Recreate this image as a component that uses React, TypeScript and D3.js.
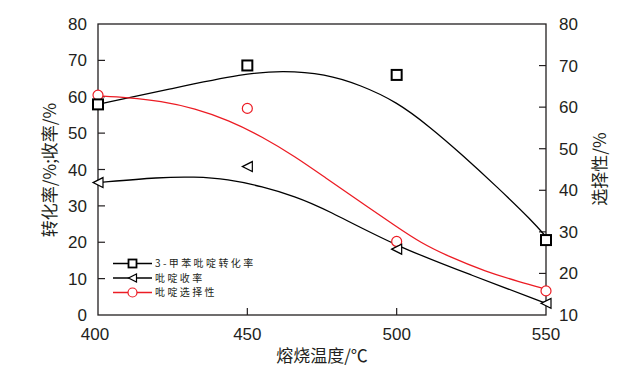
import React from "react";
import * as d3 from "d3";

const temps = [400, 450, 500, 550];
const conversion = [57.9, 68.6, 66.0, 20.6];
const yieldPct = [36.4, 40.8, 18.1, 3.2];
const selectivity = [62.9, 59.7, 27.7, 15.8];

// fitted curves
const convCurveX = [400, 425, 449, 462, 476, 488, 500, 511, 522, 533.5, 545.6, 550];
const convCurveY = [57.9, 62.3, 66.4, 67.2, 66.3, 63.2, 58.6, 51.8, 44.0, 35.3, 25.7, 21.5];
const yieldCurveX = [400, 421, 432, 443.5, 455, 466, 476, 500, 525, 550];
const yieldCurveY = [36.4, 37.9, 38.0, 37.4, 35.3, 32.6, 29.2, 18.8, 11.0, 3.2];
const selCurveX = [400, 410, 421, 432.5, 443.6, 455, 466, 476, 487.7, 500, 508, 517, 530, 541, 550];
const selCurveY = [62.7, 62.3, 61.5, 59.7, 56.9, 52.9, 48.1, 43.1, 37.3, 31.2, 27.4, 24.2, 20.4, 18.0, 16.2];

const xTicks = [400, 450, 500, 550];
const leftTicks = [0, 10, 20, 30, 40, 50, 60, 70, 80];
const rightTicks = [10, 20, 30, 40, 50, 60, 70, 80];
const legendLabels = ["3-甲苯吡啶转化率", "吡啶收率", "吡啶选择性"];

const RED = "#ec1c24";
const INK = "#231f20";
const FONT = "'Liberation Sans', Arial, 'Noto Sans CJK SC', sans-serif";
const CJK = "'Noto Sans CJK SC', 'Liberation Sans', sans-serif";

export default function App() {
  const L = 98, R = 546, T = 24, B = 315;
  const x = d3.scaleLinear().domain([400, 550]).range([L, R]);
  const yL = d3.scaleLinear().domain([0, 80]).range([B, T]);
  const yR = d3.scaleLinear().domain([10, 80]).range([B, T]);

  const mk = (xs: number[], ys: number[], ys2: (v: number) => number) =>
    d3.line<number>().x((_, i) => x(xs[i])).y((_, i) => ys2(ys[i])).curve(d3.curveBasis)(xs) || "";

  const sq = (cx: number, cy: number, s: number, key: string, sw = 2) => (
    <rect key={key} x={cx - s / 2} y={cy - s / 2} width={s} height={s} fill="white" stroke="black" strokeWidth={sw} />
  );
  const tri = (cx: number, cy: number, s: number, key: string) => (
    <path key={key} d={`M${cx - s / 2},${cy} L${cx + s / 2},${cy - s / 2} L${cx + s / 2},${cy + s / 2} Z`} fill="white" stroke="black" strokeWidth={1.2} />
  );
  const circ = (cx: number, cy: number, r: number, key: string) => (
    <circle key={key} cx={cx} cy={cy} r={r} fill="white" stroke={RED} strokeWidth={1.2} />
  );

  const legY = [263.5, 278, 292.5];

  return (
    <svg width={631} height={380} style={{ position: "absolute", left: 0, top: 0, background: "white" }}>
      {/* frame */}
      <rect x={L} y={T} width={R - L} height={B - T} fill="none" stroke={INK} strokeWidth={1.3} />
      {/* ticks */}
      {leftTicks.slice(1, -1).map((v) => (
        <line key={"lt" + v} x1={L} x2={L + 7} y1={yL(v)} y2={yL(v)} stroke={INK} strokeWidth={1.2} />
      ))}
      {rightTicks.slice(1, -1).map((v) => (
        <line key={"rt" + v} x1={R - 7} x2={R} y1={yR(v)} y2={yR(v)} stroke={INK} strokeWidth={1.2} />
      ))}
      {xTicks.slice(1, -1).map((v) => (
        <line key={"bt" + v} x1={x(v)} x2={x(v)} y1={B} y2={B - 7} stroke={INK} strokeWidth={1.2} />
      ))}
      {/* tick labels */}
      {leftTicks.map((v) => (
        <text key={"ll" + v} x={L - 11} y={yL(v) + 6} textAnchor="end" fontSize={17} fontFamily={FONT} fill={INK}>{v}</text>
      ))}
      {rightTicks.map((v) => (
        <text key={"rl" + v} x={R + 13} y={yR(v) + 6} textAnchor="start" fontSize={17} fontFamily={FONT} fill={INK}>{v}</text>
      ))}
      {xTicks.map((v) => (
        <text key={"xl" + v} x={x(v) - (v === 400 ? 3 : 0)} y={340} textAnchor="middle" fontSize={17} fontFamily={FONT} fill={INK}>{v}</text>
      ))}
      {/* axis titles */}
      <text x={322} y={362} textAnchor="middle" fontSize={17} fontFamily={CJK} fill={INK}>熔烧温度/℃</text>
      <text transform={`translate(56,170) rotate(-90)`} textAnchor="middle" fontSize={17} fontFamily={CJK} fill={INK}>转化率/%;收率/%</text>
      <text transform={`translate(606,169) rotate(-90)`} textAnchor="middle" fontSize={17} fontFamily={CJK} fill={INK}>选择性/%</text>

      {/* curves */}
      <path d={mk(convCurveX, convCurveY, yL)} fill="none" stroke="black" strokeWidth={1.3} />
      <path d={mk(yieldCurveX, yieldCurveY, yL)} fill="none" stroke="black" strokeWidth={1.3} />
      <path d={mk(selCurveX, selCurveY, yR)} fill="none" stroke={RED} strokeWidth={1.3} />

      {/* markers */}
      {temps.map((t, i) => circ(x(t), yR(selectivity[i]), 5, "c" + i))}
      {temps.map((t, i) => tri(x(t), yL(yieldPct[i]), 10, "t" + i))}
      {temps.map((t, i) => sq(x(t), yL(conversion[i]), 10, "s" + i))}

      {/* legend */}
      {legendLabels.map((lab, i) => {
        const color = i === 2 ? RED : "black";
        return (
          <g key={"lg" + i}>
            <line x1={113} x2={152} y1={legY[i]} y2={legY[i]} stroke={color} strokeWidth={1.6} />
            {i === 0 && sq(132.5, legY[i], 8, "lsq", 1.8)}
            {i === 1 && tri(132.5, legY[i], 8, "ltri")}
            {i === 2 && circ(132.5, legY[i], 4.5, "lc")}
            <text x={155} y={legY[i] + 3.8} fontSize={10} letterSpacing={2.4} fontFamily={CJK} fill={INK}>{lab}</text>
          </g>
        );
      })}
    </svg>
  );
}
